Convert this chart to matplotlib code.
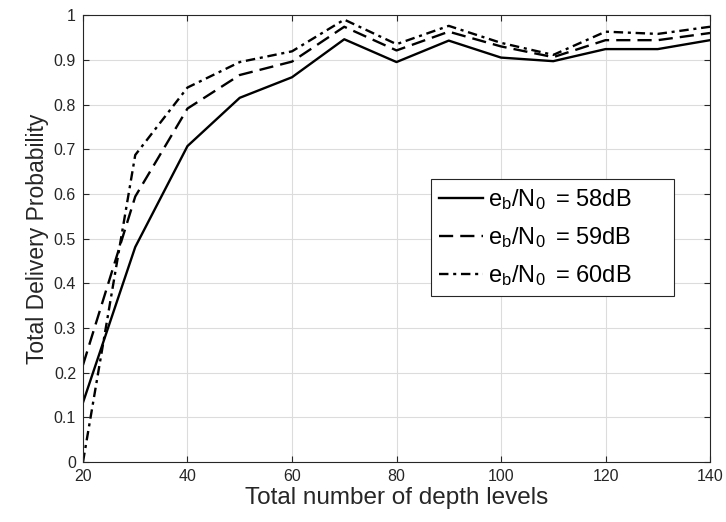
import matplotlib
matplotlib.use("Agg")
import matplotlib.pyplot as plt

# depth levels and delivery probability for each eb/N0 setting
levels = [20, 30, 40, 50, 60, 70, 80, 90, 100, 110, 120, 130, 140]
p_58 = [0.133, 0.481, 0.707, 0.815, 0.861, 0.946, 0.895, 0.943, 0.905, 0.897, 0.924, 0.924, 0.944]
p_59 = [0.217, 0.594, 0.791, 0.866, 0.896, 0.974, 0.921, 0.963, 0.930, 0.906, 0.944, 0.944, 0.960]
p_60 = [0.0, 0.687, 0.838, 0.895, 0.919, 0.990, 0.935, 0.976, 0.938, 0.911, 0.963, 0.958, 0.974]
labels = ["58dB", "59dB", "60dB"]

plt.rcParams["font.family"] = ["Liberation Sans", "DejaVu Sans"]
plt.rcParams["mathtext.fontset"] = "custom"
plt.rcParams["mathtext.rm"] = "Liberation Sans"
plt.rcParams["mathtext.default"] = "regular"

fig = plt.figure(figsize=(7.26, 5.22), dpi=100)
ax = fig.add_axes([0.1143, 0.115, 0.8637, 0.856])

styles = [dict(linestyle="-"), dict(linestyle=(0, (6, 3))), dict(linestyle=(0, (4, 2, 1.3, 2)))]
for vals, lab, st in zip([p_58, p_59, p_60], labels, styles):
    ax.plot(levels, vals, color="black", linewidth=1.7,
            label=r"e$_\mathrm{b}$/N$_\mathrm{0}\,$ = " + lab + "\u00a0" * 6, **st)

ax.set_xlim(20, 140)
ax.set_ylim(0, 1)
ax.set_xticks(range(20, 141, 20))
ax.set_yticks([i / 10 for i in range(11)])
ax.set_yticklabels(["0", "0.1", "0.2", "0.3", "0.4", "0.5", "0.6", "0.7", "0.8", "0.9", "1"])
ax.grid(True, color="#dcdcdc", linewidth=0.8)
ax.set_axisbelow(True)
ax.tick_params(direction="in", top=True, right=True, length=4, width=0.8,
               colors="#262626", labelsize=11.5, pad=5)
for s in ax.spines.values():
    s.set_color("#262626")
    s.set_linewidth(0.8)

ax.set_xlabel("Total number of depth levels", fontsize=17.5, color="#262626", labelpad=2)
ax.set_ylabel("Total Delivery Probability", fontsize=16.5, color="#262626", labelpad=3)

leg = ax.legend(loc="upper left", bbox_to_anchor=(0.555, 0.633), fontsize=17,
                frameon=True, fancybox=False, edgecolor="#262626", handlelength=1.85,
                handletextpad=0.2, borderpad=0.35, labelspacing=0.55, borderaxespad=0,
                framealpha=1)
leg.get_frame().set_linewidth(0.8)

fig.savefig("out.png", dpi=100)
